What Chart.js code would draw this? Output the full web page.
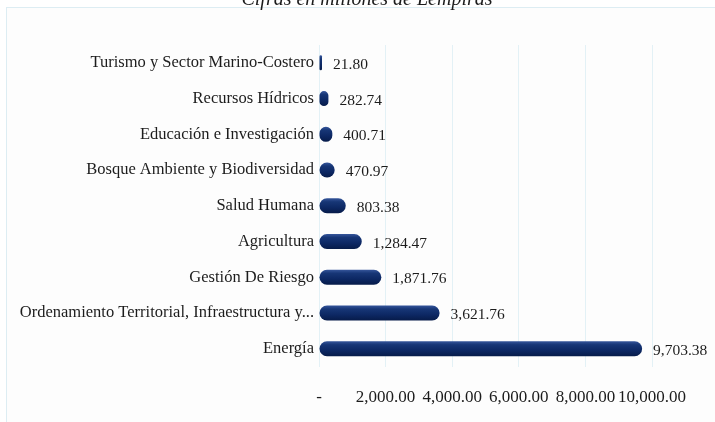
<!DOCTYPE html>
<html>
<head>
<meta charset="utf-8">
<script src="https://cdn.jsdelivr.net/npm/chart.js@4"></script>
<style>
  html, body { margin: 0; padding: 0; background: #ffffff; overflow: hidden; }
  #page { position: relative; width: 715px; height: 422px; overflow: hidden; }
  #frame { position: absolute; left: 6px; top: 7px; width: 720px; height: 430px;
           border: 1px solid #ddedf3; background: #fdfdfd; }
  #wrap { position: absolute; left: 0; top: -12px; width: 715px; height: 441px; }
</style>
</head>
<body>
<div id="page">
  <div id="frame"></div>
  <div id="wrap"><canvas id="chart"></canvas></div>
</div>
<script>
const titleText = 'Cifras en millones de Lempiras';

const categories = [
  'Turismo y Sector Marino-Costero',
  'Recursos Hídricos',
  'Educación e Investigación',
  'Bosque Ambiente y Biodiversidad',
  'Salud Humana',
  'Agricultura',
  'Gestión De Riesgo',
  'Ordenamiento Territorial, Infraestructura y...',
  'Energía'
];

const montos = [21.80, 282.74, 400.71, 470.97, 803.38, 1284.47, 1871.76, 3621.76, 9703.38];

const xTicks = [0, 2000, 4000, 6000, 8000, 10000];

const fmt = v => v.toLocaleString('en-US', { minimumFractionDigits: 2, maximumFractionDigits: 2 });
const serif = '"Liberation Serif", "Times New Roman", serif';

// title sits above the frame, mostly cut off at the top of the picture
const topTitle = {
  id: 'topTitle',
  afterDraw(chart) {
    const ctx = chart.ctx;
    ctx.save();
    ctx.font = 'italic 20px ' + serif;
    ctx.fillStyle = '#1c1c1c';
    ctx.textAlign = 'center';
    ctx.textBaseline = 'alphabetic';
    ctx.fillText(titleText, 367, 17);
    ctx.restore();
  }
};

// value labels to the right of each bar
const valueLabels = {
  id: 'valueLabels',
  afterDatasetsDraw(chart) {
    const ctx = chart.ctx;
    const meta = chart.getDatasetMeta(0);
    ctx.save();
    ctx.font = '15.5px ' + serif;
    ctx.fillStyle = '#1c1c1c';
    ctx.textBaseline = 'middle';
    ctx.textAlign = 'left';
    meta.data.forEach((bar, i) => {
      ctx.fillText(fmt(montos[i]), bar.x + 11, bar.y + 2);
    });
    ctx.restore();
  }
};

function barFill(c) {
  const chart = c.chart;
  if (!chart.chartArea || c.dataIndex === undefined) return '#0f2a6b';
  const y = chart.scales.y.getPixelForValue(c.dataIndex);
  const g = chart.ctx.createLinearGradient(0, y - 8, 0, y + 8);
  g.addColorStop(0, '#3a5aa0');
  g.addColorStop(0.25, '#173676');
  g.addColorStop(0.6, '#0d2864');
  g.addColorStop(1, '#061a47');
  return g;
}

new Chart(document.getElementById('chart'), {
  type: 'bar',
  data: {
    labels: categories,
    datasets: [{
      data: montos,
      backgroundColor: barFill,
      borderRadius: 8,
      borderSkipped: false,
      barPercentage: 0.42,
      categoryPercentage: 1,
      minBarLength: 3
    }]
  },
  options: {
    indexAxis: 'y',
    responsive: true,
    maintainAspectRatio: false,
    animation: false,
    layout: { padding: { left: 0, right: 63, top: 57, bottom: 0 } },
    plugins: {
      legend: { display: false },
      tooltip: { enabled: false },
      title: { display: false }
    },
    scales: {
      x: {
        min: 0,
        max: 10000,
        afterBuildTicks: s => { s.ticks = xTicks.map(v => ({ value: v })); },
        grid: { color: '#e3f1f6', drawTicks: false },
        border: { display: false },
        ticks: {
          padding: 21,
          maxRotation: 0,
          minRotation: 0,
          autoSkip: false,
          color: '#1c1c1c',
          font: { family: serif, size: 17 },
          callback: v => v === 0 ? '-' : fmt(v)
        }
      },
      y: {
        afterFit: s => { s.width = 319; },
        grid: { display: false, drawTicks: false },
        border: { display: false },
        ticks: {
          padding: 5,
          color: '#1c1c1c',
          font: { family: serif, size: 16.5 }
        }
      }
    }
  },
  plugins: [valueLabels, topTitle]
});
</script>
</body>
</html>
